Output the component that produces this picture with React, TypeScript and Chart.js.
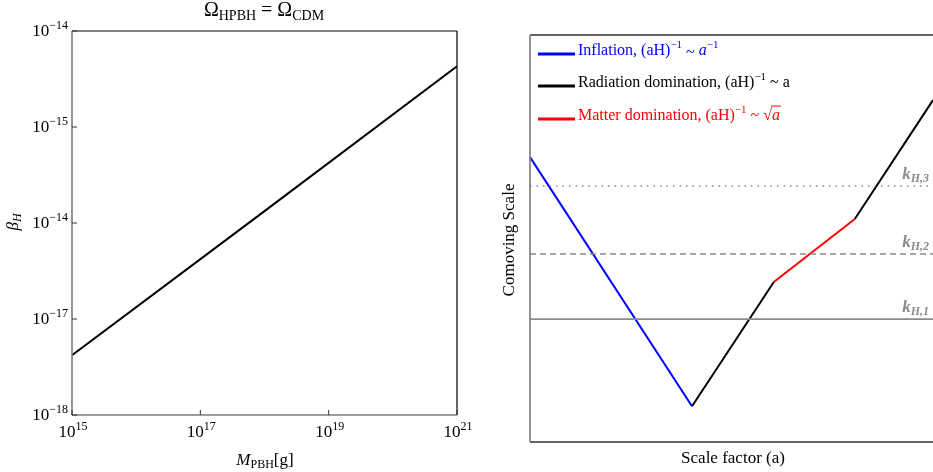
import React, { useEffect, useRef } from "react";
import { Chart, registerables } from "chart.js";
Chart.register(...registerables);

// ---- Left panel data ----
const massValues = [1e15, 1e18, 1e21];
const betaValues = [4.2e-18, 1.33e-16, 4.3e-15];
const massTicks = [1e15, 1e17, 1e19, 1e21];
const massTickExp = ["15", "17", "19", "21"];
const betaTicks = [1e-14, 1e-15, 1e-16, 1e-17, 1e-18];
const betaTickExp = ["\u221214", "\u221215", "\u221214", "\u221217", "\u221218"];

// ---- Right panel data (schematic, log units) ----
const inflationA = [0, 4.02];
const inflationK = [7.0, 0.88];
const radiation1A = [4.02, 6.05];
const radiation1K = [0.88, 3.93];
const matterA = [6.05, 8.06];
const matterK = [3.93, 5.48];
const radiation2A = [8.06, 10];
const radiation2K = [5.48, 8.4];
const horizonScales = [3.02, 4.62, 6.29];
const horizonLabels = ["H,1", "H,2", "H,3"];

const SERIF = '"Liberation Serif", "Times New Roman", serif';
const RIGHT_OFF = 480;

type Seg = { t: string; size: number; dy?: number; italic?: boolean; bold?: boolean; color?: string; overline?: boolean };

function fontOf(s: Seg) {
  return `${s.italic ? "italic " : ""}${s.bold ? "bold " : ""}${s.size}px ${SERIF}`;
}

function drawRich(ctx: CanvasRenderingContext2D, segs: Seg[], x: number, y: number, align: "left" | "center" | "right", color: string) {
  ctx.save();
  ctx.textBaseline = "middle";
  ctx.textAlign = "left";
  let w = 0;
  for (const s of segs) {
    ctx.font = fontOf(s);
    w += ctx.measureText(s.t).width;
  }
  let cx = align === "left" ? x : align === "center" ? x - w / 2 : x - w;
  for (const s of segs) {
    ctx.font = fontOf(s);
    const sw = ctx.measureText(s.t).width;
    ctx.fillStyle = s.color || color;
    ctx.fillText(s.t, cx, y + (s.dy || 0));
    if (s.overline) {
      ctx.strokeStyle = s.color || color;
      ctx.lineWidth = 1;
      ctx.beginPath();
      ctx.moveTo(cx - 1, y - s.size * 0.62);
      ctx.lineTo(cx + sw + 1, y - s.size * 0.62);
      ctx.stroke();
    }
    cx += sw;
  }
  ctx.restore();
}

function line(ctx: CanvasRenderingContext2D, x1: number, y1: number, x2: number, y2: number, color: string, w: number) {
  ctx.save();
  ctx.strokeStyle = color;
  ctx.lineWidth = w;
  ctx.beginPath();
  ctx.moveTo(x1, y1);
  ctx.lineTo(x2, y2);
  ctx.stroke();
  ctx.restore();
}

const toPts = (xs: number[], ys: number[]) => xs.map((x, i) => ({ x, y: ys[i] }));

export default function App() {
  const leftRef = useRef<HTMLCanvasElement>(null);
  const rightRef = useRef<HTMLCanvasElement>(null);

  useEffect(() => {
    const leftPlugin = {
      id: "leftDecor",
      afterDraw(chart: any) {
        const ctx = chart.ctx as CanvasRenderingContext2D;
        const a = chart.chartArea;
        const xs = chart.scales.x;
        const ys = chart.scales.y;
        line(ctx, a.left, a.top, a.right, a.top, "#000", 1.2);
        line(ctx, a.right, a.top, a.right, a.bottom, "#000", 1.2);
        line(ctx, a.left, a.top, a.left, a.bottom, "#7a7a7a", 1.6);
        line(ctx, a.left, a.bottom, a.right, a.bottom, "#7a7a7a", 1.6);
        betaTicks.forEach((v, i) => {
          const y = ys.getPixelForValue(v);
          line(ctx, a.left, y, a.left + 5, y, "#333", 1);
          drawRich(ctx, [{ t: "10", size: 17 }, { t: betaTickExp[i], size: 12, dy: -6 }], a.left - 4, y + 1, "right", "#000");
        });
        massTicks.forEach((v, i) => {
          const x = xs.getPixelForValue(v);
          line(ctx, x, a.bottom, x, a.bottom - 5, "#333", 1);
          drawRich(ctx, [{ t: "10", size: 17 }, { t: massTickExp[i], size: 12, dy: -6 }], x + 1, 433, "center", "#000");
        });
        drawRich(ctx, [{ t: "\u03A9", size: 20 }, { t: "HPBH", size: 14, dy: 5 }, { t: " = \u03A9", size: 20 }, { t: "CDM", size: 14, dy: 5 }], 264, 11, "center", "#000");
        drawRich(ctx, [{ t: "M", size: 17, italic: true }, { t: "PBH", size: 12, dy: 4 }, { t: "[g]", size: 17 }], 265, 461, "center", "#000");
        ctx.save();
        ctx.translate(14, 222);
        ctx.rotate(-Math.PI / 2);
        drawRich(ctx, [{ t: "\u03B2", size: 17, italic: true }, { t: "H", size: 12, italic: true, dy: 4 }], 0, 0, "center", "#000");
        ctx.restore();
      },
    };

    const rightPlugin = {
      id: "rightDecor",
      afterDraw(chart: any) {
        const ctx = chart.ctx as CanvasRenderingContext2D;
        const a = chart.chartArea;
        const ys = chart.scales.y;
        const off = RIGHT_OFF;
        line(ctx, a.left, a.top, a.right, a.top, "#333", 1.4);
        line(ctx, a.left, a.bottom, a.right, a.bottom, "#333", 1.6);
        line(ctx, a.left, a.top, a.left, a.bottom, "#7a7a7a", 1.6);
        const items = [
          { color: "#0000ff", y: 54, segs: [{ t: "Inflation, (aH)", size: 16 }, { t: "\u22121", size: 11, dy: -6 }, { t: " ~ ", size: 16, dy: 2 }, { t: "a", size: 16, italic: true }, { t: "\u22121", size: 11, dy: -6 }] as Seg[] },
          { color: "#000000", y: 86, segs: [{ t: "Radiation domination, (aH)", size: 16 }, { t: "\u22121", size: 11, dy: -6 }, { t: " ~ a", size: 16 }] as Seg[] },
          { color: "#ff0000", y: 119, segs: [{ t: "Matter domination, (aH)", size: 16 }, { t: "\u22121", size: 11, dy: -6 }, { t: " ~ \u221A", size: 16 }, { t: "a", size: 16, italic: true, overline: true }] as Seg[] },
        ];
        items.forEach((it) => {
          line(ctx, 538 - off, it.y, 575 - off, it.y, it.color, 3);
          drawRich(ctx, it.segs, 578 - off, it.y - 3, "left", it.color);
        });
        horizonScales.forEach((v, i) => {
          const y = ys.getPixelForValue(v);
          drawRich(ctx, [{ t: "k", size: 17, italic: true, bold: true }, { t: horizonLabels[i], size: 12, italic: true, bold: true, dy: 4 }], 929 - off, y - 11, "right", "#8c8c8c");
        });
        drawRich(ctx, [{ t: "Scale factor (a)", size: 17 }], 733 - off, 459, "center", "#000");
        ctx.save();
        ctx.translate(510 - off, 240);
        ctx.rotate(-Math.PI / 2);
        drawRich(ctx, [{ t: "Comoving Scale", size: 17 }], 0, 0, "center", "#000");
        ctx.restore();
      },
    };

    const left = new Chart(leftRef.current as HTMLCanvasElement, {
      type: "scatter",
      data: {
        datasets: [
          { data: toPts(massValues, betaValues), showLine: true, borderColor: "#000", borderWidth: 2, pointRadius: 0 },
        ],
      },
      options: {
        animation: false,
        responsive: false,
        devicePixelRatio: 1,
        layout: { padding: { left: 72, right: 23, top: 31, bottom: 57 } },
        plugins: { legend: { display: false }, tooltip: { enabled: false } },
        scales: {
          x: { type: "logarithmic", min: 1e15, max: 1e21, display: false },
          y: { type: "logarithmic", min: 1e-18, max: 1e-14, display: false },
        },
      },
      plugins: [leftPlugin],
    } as any);

    const hz = (v: number, dash: number[]) => ({
      data: [{ x: 0, y: v }, { x: 10, y: v }],
      showLine: true,
      borderColor: "#8a8a8a",
      borderWidth: 1.6,
      borderDash: dash,
      pointRadius: 0,
    });

    const right = new Chart(rightRef.current as HTMLCanvasElement, {
      type: "scatter",
      data: {
        datasets: [
          hz(horizonScales[0], []),
          hz(horizonScales[1], [6, 4]),
          hz(horizonScales[2], [1.5, 5]),
          { data: toPts(inflationA, inflationK), showLine: true, borderColor: "#0000ff", borderWidth: 2, pointRadius: 0 },
          { data: toPts(radiation1A, radiation1K), showLine: true, borderColor: "#000", borderWidth: 2, pointRadius: 0 },
          { data: toPts(matterA, matterK), showLine: true, borderColor: "#ff0000", borderWidth: 2, pointRadius: 0 },
          { data: toPts(radiation2A, radiation2K), showLine: true, borderColor: "#000", borderWidth: 2, pointRadius: 0 },
        ],
      },
      options: {
        animation: false,
        responsive: false,
        devicePixelRatio: 1,
        layout: { padding: { left: 530 - RIGHT_OFF, right: 0, top: 35, bottom: 30 } },
        plugins: { legend: { display: false }, tooltip: { enabled: false } },
        scales: {
          x: { type: "linear", min: 0, max: 10, display: false },
          y: { type: "linear", min: 0, max: 10, display: false },
        },
      },
      plugins: [rightPlugin],
    } as any);

    return () => {
      left.destroy();
      right.destroy();
    };
  }, []);

  return (
    <div style={{ position: "absolute", left: 0, top: 0, width: 933, height: 472, background: "#fff", overflow: "hidden" }}>
      <canvas ref={leftRef} width={480} height={472} style={{ position: "absolute", left: 0, top: 0, display: "block" }} />
      <canvas ref={rightRef} width={933 - RIGHT_OFF} height={472} style={{ position: "absolute", left: RIGHT_OFF, top: 0, display: "block" }} />
    </div>
  );
}
